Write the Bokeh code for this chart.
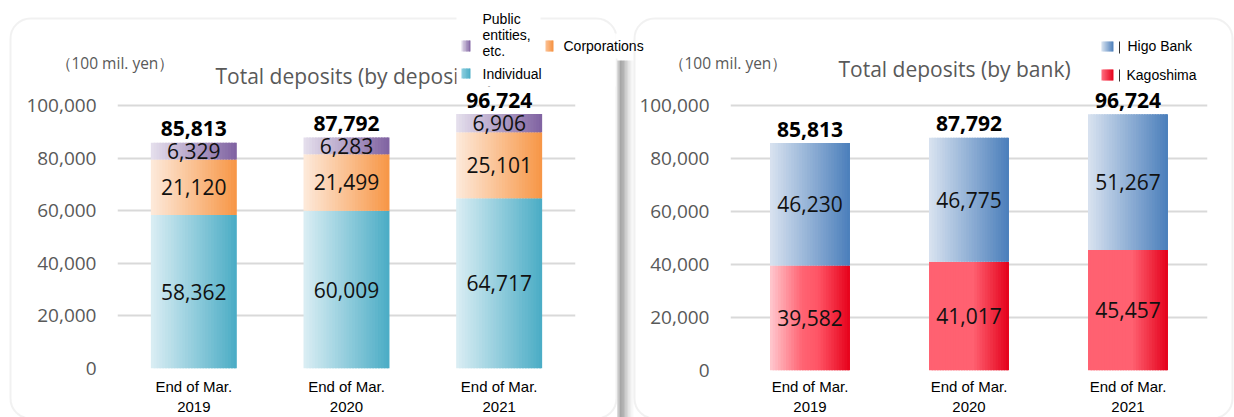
from bokeh.plotting import figure
from bokeh.models import Range1d, FixedTicker, Label, BoxAnnotation
from bokeh.layouts import row
from bokeh.embed import file_html
from bokeh.resources import INLINE
from bokeh.core.properties import value

# ---------------- data ----------------
categories = ["End of Mar.\n2019", "End of Mar.\n2020", "End of Mar.\n2021"]
individual = [58362, 60009, 64717]
corporations = [21120, 21499, 25101]
public_entities = [6329, 6283, 6906]
totals = [85813, 87792, 96724]
kagoshima = [39582, 41017, 45457]
higo = [46230, 46775, 51267]
y_ticks = [0, 20000, 40000, 60000, 80000, 100000]
y_tick_labels = ["0", "20,000", "40,000", "60,000", "80,000", "100,000"]

# ---------------- style ----------------
NUM = "Open Sans"
SANS = "Liberation Sans"
GRAY = "#595959"
GRID = "#d9d9d9"
BORDER = "#cfcfcf"
W, H = 1234, 417

G_IND = [(0, "#dbeef4"), (1, "#4aacc5")]
G_CORP = [(0, "#fdeadb"), (1, "#f79646")]
G_PUB = [(0, "#e6e0ed"), (1, "#7f62a1")]
G_HIGO = [(0, "#d9e3f0"), (1, "#4a7ebb")]
G_KAGO = [
    [(0, "#ffc9cf"), (0.4, "#ff6473"), (0.6, "#ff5566"), (1, "#e6001a")],
    [(0, "#ff6171"), (0.55, "#ff6171"), (1, "#e4001a")],
    [(0, "#ff6171"), (0.55, "#ff6171"), (1, "#e4001a")],
]


def no_align(p):
    if "frame_align" in p.properties():
        p.frame_align = False


def h2r(h):
    h = h.lstrip("#")
    return [int(h[i:i + 2], 16) for i in (0, 2, 4)]


def grad(stops, t):
    for (t0, c0), (t1, c1) in zip(stops[:-1], stops[1:]):
        if t <= t1:
            f = 0 if t1 == t0 else (t - t0) / (t1 - t0)
            a, b = h2r(c0), h2r(c1)
            return "#%02x%02x%02x" % tuple(int(round(a[i] + (b[i] - a[i]) * f)) for i in range(3))
    return stops[-1][1]


def gradient_bars(p, centers, width, bottoms, tops, stops_list, n=30, **kw):
    L, R, B, T, C = [], [], [], [], []
    for c, b, t, st in zip(centers, bottoms, tops, stops_list):
        x0 = c - width / 2
        dw = width / n
        for k in range(n):
            L.append(x0 + k * dw)
            R.append(min(x0 + (k + 1.6) * dw, x0 + width))
            B.append(b)
            T.append(t)
            C.append(grad(st, (k + 0.5) / n))
    return p.quad(left=L, right=R, bottom=B, top=T, fill_color=C, line_color=None, **kw)


def make_fig(width, fl, fr, fb, y_end, standoff, margin=None):
    kw = {}
    if margin is not None:
        kw["margin"] = margin
    p = figure(width=width, height=H, x_range=Range1d(0, len(categories)),
               y_range=Range1d(0, y_end), output_backend="svg", toolbar_location=None,
               min_border_left=fl, min_border_right=width - fr, min_border_top=0,
               min_border_bottom=H - fb, **kw)
    no_align(p)
    p.background_fill_color = None
    p.border_fill_color = None
    p.outline_line_color = None
    xt = [i + 0.5 for i in range(len(categories))]
    p.xaxis.ticker = FixedTicker(ticks=xt)
    p.xaxis.major_label_overrides = {t: c for t, c in zip(xt, categories)}
    p.xaxis.axis_line_color = None
    p.xaxis.major_tick_line_color = None
    p.xaxis.minor_tick_line_color = None
    p.xaxis.major_tick_out = 0
    p.xaxis.minor_tick_out = 0
    p.xaxis.major_label_text_font = SANS
    p.xaxis.major_label_text_font_size = "15px"
    p.xaxis.major_label_text_color = "black"
    p.xaxis.major_label_standoff = standoff
    p.yaxis.ticker = FixedTicker(ticks=y_ticks)
    p.yaxis.major_label_overrides = {t: l for t, l in zip(y_ticks, y_tick_labels)}
    p.yaxis.axis_line_color = None
    p.yaxis.major_tick_line_color = None
    p.yaxis.minor_tick_line_color = None
    p.yaxis.major_tick_out = 0
    p.yaxis.minor_tick_out = 0
    p.yaxis.major_label_text_font = NUM
    p.yaxis.major_label_text_font_size = "19px"
    p.yaxis.major_label_text_color = GRAY
    p.yaxis.major_label_standoff = 21
    p.xgrid.visible = False
    p.ygrid.ticker = FixedTicker(ticks=y_ticks)
    p.ygrid.grid_line_color = GRID
    p.ygrid.grid_line_width = 2
    return p, xt


def fmt(v):
    return f"{v:,}"


def seg_labels(p, xs, ys, vals, bold=False, y_offset=0):
    p.text(x=xs, y=ys, text=[fmt(v) for v in vals], y_offset=y_offset,
           text_font=value(NUM), text_font_size="21px",
           text_font_style="bold" if bold else "normal",
           text_color="black" if bold else "#111111",
           text_align="center", text_baseline="middle")


# ================= left chart =================
p1, xt1 = make_fig(650, 117, 575, 368, 368 / 263 * 100000, 9)
base2 = [a + b for a, b in zip(individual, corporations)]
base3 = [a + b for a, b in zip(base2, public_entities)]
w1 = 0.563
gradient_bars(p1, xt1, w1, [0] * 3, individual, [G_IND] * 3)
gradient_bars(p1, xt1, w1, individual, base2, [G_CORP] * 3)
gradient_bars(p1, xt1, w1, base2, base3, [G_PUB] * 3)
seg_labels(p1, xt1, [v / 2 for v in individual], individual)
seg_labels(p1, xt1, [(a + b) / 2 for a, b in zip(individual, base2)], corporations)
seg_labels(p1, xt1, [(a + b) / 2 for a, b in zip(base2, base3)], public_entities)
seg_labels(p1, xt1, base3, totals, bold=True, y_offset=-14)

# ================= right chart =================
p2, xt2 = make_fig(617, 113, 590, 370, 370 / 265 * 100000, 7, margin=(0, 0, 0, -33))
w2 = 0.503
gradient_bars(p2, xt2, w2, [0] * 3, kagoshima, G_KAGO)
gradient_bars(p2, xt2, w2, kagoshima, totals, [G_HIGO] * 3)
seg_labels(p2, xt2, [v / 2 for v in kagoshima], kagoshima)
seg_labels(p2, xt2, [(a + b) / 2 for a, b in zip(kagoshima, totals)], higo)
seg_labels(p2, xt2, totals, totals, bold=True, y_offset=-14)

# ================= decoration layer (pixel coordinates, whole canvas) =================
d = figure(width=W, height=H, x_range=Range1d(0, W), y_range=Range1d(H, 0),
           x_axis_type=None, y_axis_type=None, output_backend="svg", toolbar_location=None,
           min_border=0, margin=(0, 0, 0, -W))
no_align(d)
d.background_fill_color = None
d.border_fill_color = None
d.outline_line_color = None
d.xgrid.visible = False
d.ygrid.visible = False


def box(l, r, t, b, **kw):
    opts = dict(fill_color="white", fill_alpha=1, line_color=None)
    opts.update(kw)
    d.add_layout(BoxAnnotation(left=l, right=r, top=t, bottom=b, **opts))


def label(x, y, text, font=SANS, size="14px", color="black"):
    d.add_layout(Label(x=x, y=y, text=text, text_font=font, text_font_size=size,
                       text_color=color, text_align="left", text_baseline="middle"))


def legend_square(l, r, t, b, stops, n=6):
    xs = [l + (r - l) * k / n for k in range(n + 1)]
    d.quad(left=xs[:-1], right=[min(x + (r - l) / n * 1.5, r) for x in xs[:-1]],
           bottom=[b] * n, top=[t] * n,
           fill_color=[grad(stops, (k + 0.5) / n) for k in range(n)], line_color=None,
           level="overlay")


# shadow between panels
shadow = [0.22, 0.40, 0.50, 0.48, 0.40, 0.31, 0.23, 0.16, 0.10, 0.06, 0.03]
for i, a in enumerate(shadow):
    box(616.5 + i * 1.5, 618.2 + i * 1.5, 60, 417, fill_color="#5a5a5a", fill_alpha=a)

# panel borders
box(10, 616, 18, 418, fill_alpha=0, fill_color=None, line_color=BORDER, line_width=2,
    border_radius=20)
box(634, 1232, 18, 418, fill_alpha=0, fill_color=None, line_color=BORDER, line_width=2,
    border_radius=20)

# texts
label(55, 62, "（100 mil. yen）", font=NUM, size="15.5px", color=GRAY)
label(215, 75, "Total deposits (by depositor)", font=NUM, size="21px", color=GRAY)
label(668, 62, "（100 mil. yen）", font=NUM, size="15.5px", color=GRAY)
label(838, 68, "Total deposits (by bank)", font=NUM, size="21px", color=GRAY)

# left legend
box(456, 540, 8, 33)
box(456, 615, 33, 86)
box(615, 628, 33, 58)
label(482, 18, "Public")
label(482, 34, "entities,")
label(482, 50, "etc.")
label(563, 45, "Corporations")
label(482, 73, "Individual")
legend_square(461, 470, 40, 51, G_PUB)
legend_square(545, 553, 40, 51, [(0, "#fbc296"), (1, "#f68f3c")])
legend_square(461, 470, 68, 78, [(0, "#8fd0e0"), (1, "#4aacc5")])

# right legend
label(1127, 45, "Higo Bank")
label(1126, 74, "Kagoshima")
legend_square(1101, 1113, 41, 51, G_HIGO)
legend_square(1101, 1113, 69, 80, [(0, "#ff7080"), (1, "#e6001a")])
box(1118.5, 1119.5, 41, 53, fill_color="#333333")
box(1118.5, 1119.5, 69, 81, fill_color="#333333")

layout = row(p1, p2, d)
open("out.html", "w").write(file_html(layout, INLINE))
